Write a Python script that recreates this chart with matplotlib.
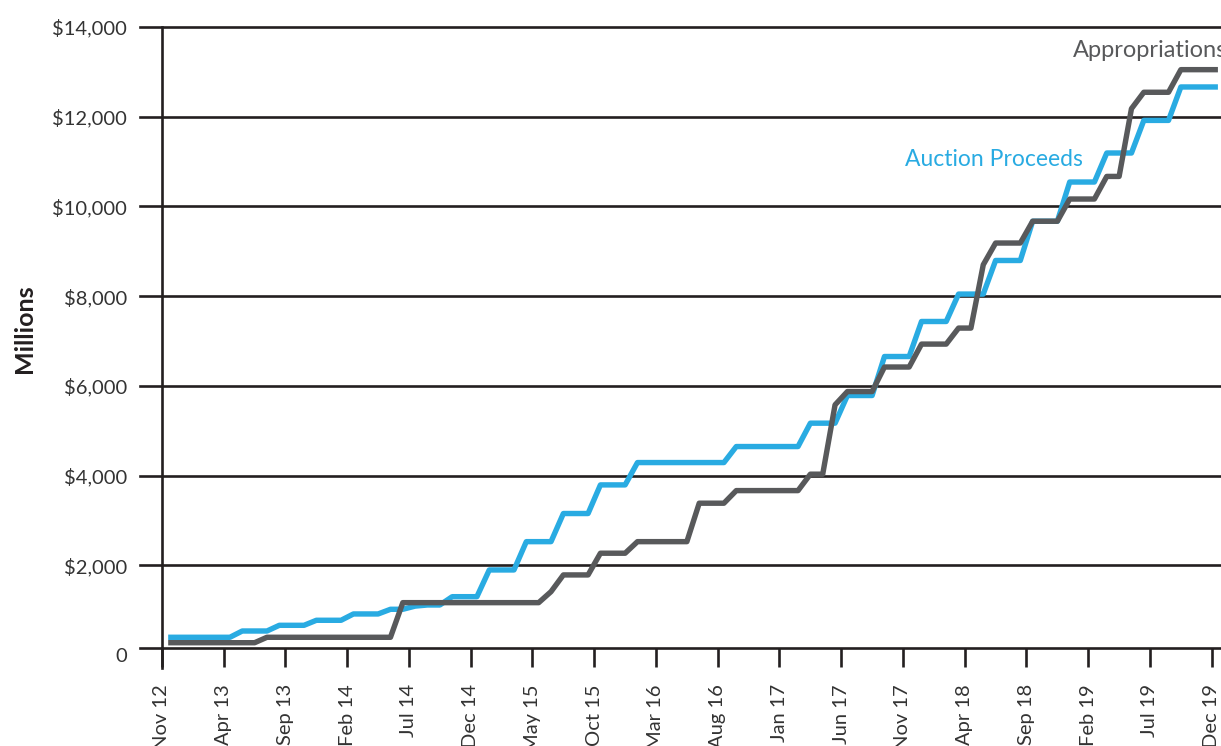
import matplotlib
matplotlib.use('Agg')
import matplotlib.pyplot as plt
import numpy as np

plt.rcParams['font.family'] = ['Lato', 'DejaVu Sans']

# monthly values, Nov 2012 .. Dec 2019 (86 months), $ millions
auction_proceeds = [
    395, 395, 395, 395, 395, 395, 535, 535, 535, 662,
    662, 662, 774, 774, 774, 915, 915, 915, 1019, 1019,
    1090, 1115, 1115, 1300, 1300, 1300, 1896, 1896, 1896, 2527,
    2527, 2527, 3154, 3154, 3154, 3792, 3792, 3792, 4290, 4290,
    4290, 4290, 4290, 4290, 4290, 4290, 4647, 4647, 4647, 4647,
    4647, 4647, 5168, 5168, 5168, 5785, 5785, 5785, 6654, 6654,
    6654, 7435, 7435, 7435, 8046, 8046, 8046, 8795, 8795, 8795,
    9670, 9670, 9670, 10544, 10544, 10544, 11191, 11191, 11191, 11918,
    11918, 11918, 12663, 12663, 12663, 12663]
appropriations = [
    274, 274, 274, 274, 274, 274, 274, 274, 395, 395,
    395, 395, 395, 395, 395, 395, 395, 395, 395, 1167,
    1167, 1167, 1167, 1167, 1167, 1167, 1167, 1167, 1167, 1167,
    1167, 1412, 1785, 1785, 1785, 2269, 2269, 2269, 2527, 2527,
    2527, 2527, 2527, 3384, 3384, 3384, 3665, 3665, 3665, 3665,
    3665, 3665, 4031, 4031, 5577, 5873, 5873, 5873, 6420, 6420,
    6420, 6931, 6931, 6931, 7288, 7288, 8700, 9184, 9184, 9184,
    9670, 9670, 9670, 10165, 10165, 10165, 10669, 10669, 12179, 12545,
    12545, 12545, 13049, 13049, 13049, 13049]
tick_labels = ['Nov 12', 'Apr 13', 'Sep 13', 'Feb 14', 'Jul 14', 'Dec 14',
               'May 15', 'Oct 15', 'Mar 16', 'Aug 16', 'Jan 17', 'Jun 17',
               'Nov 17', 'Apr 18', 'Sep 18', 'Feb 19', 'Jul 19', 'Dec 19']
y_ticks = [0, 2000, 4000, 6000, 8000, 10000, 12000, 14000]
y_labels = ['0', '$2,000', '$4,000', '$6,000', '$8,000', '$10,000', '$12,000', '$14,000']

blue = '#29ABE2'
gray = '#58595B'
ink = '#231F20'
axis_level = 156   # the x axis sits a little above zero in the original

fig = plt.figure(figsize=(12.21, 7.46), dpi=100)
ax = fig.add_axes([162/1221, (746-655)/746, 1059/1221, 628/746])

months = np.arange(len(auction_proceeds)) + 0.5   # mid-month
ax.plot(months, auction_proceeds, color=blue, lw=3.9, solid_capstyle='butt', zorder=3)
ax.plot(months, appropriations, color=gray, lw=3.9, solid_capstyle='butt', zorder=4)

ax.set_xlim(0, 85.75)
ax.set_ylim(0, 14000)

# horizontal grid lines, sticking out to the left of the y axis
ext = -22/1059
for v in y_ticks[1:]:
    ax.axhline(v, xmin=ext, xmax=1, color=ink, lw=1.9, clip_on=False, zorder=1)
ax.axhline(axis_level, xmin=ext, xmax=0, color=ink, lw=1.9, clip_on=False, zorder=1)
ax.axvline(0, ymin=-13/628, ymax=1, color=ink, lw=1.9, clip_on=False, zorder=2)

for s in ['top', 'right', 'left']:
    ax.spines[s].set_visible(False)
ax.spines['bottom'].set_position(('data', axis_level))
ax.spines['bottom'].set_color(ink)
ax.spines['bottom'].set_linewidth(1.9)

ax.set_xticks(np.arange(0, 86, 5))
ax.set_xticklabels(tick_labels, rotation=90, fontsize=14.5, color='#333333')
ax.tick_params(axis='x', direction='out', length=14, width=1.9, color=ink, pad=12)
ax.set_yticks(y_ticks)
ax.set_yticklabels(y_labels, fontsize=14.5, color='#333333')
ax.tick_params(axis='y', length=0, pad=25)

ax.set_ylabel('Millions', fontsize=18, fontweight='bold', color=ink)
ax.yaxis.set_label_coords(-126/1059, 0.52)

ax.text(74.6, 11040, 'Auction Proceeds', color=blue, fontsize=16.5, ha='right', va='center')
ax.text(73.8, 13480, 'Appropriations', color=gray, fontsize=17, ha='left', va='center',
        clip_on=False)

plt.savefig('out.png', dpi=100)
